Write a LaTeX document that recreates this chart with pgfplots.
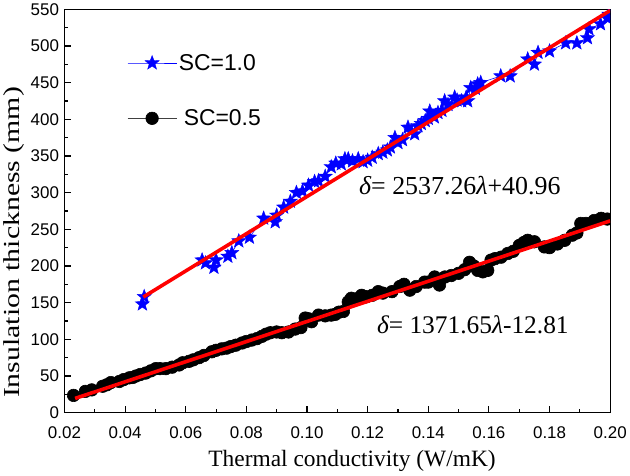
\documentclass[border=0pt]{standalone}
\usepackage{fontspec}
\setmainfont{Liberation Serif}
\newfontfamily\sans{Liberation Sans}
\usepackage{pgfplots}
\pgfplotsset{compat=1.18}
\pgfdeclareplotmark{fstar}{%
  \pgfpathmoveto{\pgfpointpolar{90}{\pgfplotmarksize}}%
  \pgfpathlineto{\pgfpointpolar{126}{0.42\pgfplotmarksize}}%
  \pgfpathlineto{\pgfpointpolar{162}{\pgfplotmarksize}}%
  \pgfpathlineto{\pgfpointpolar{198}{0.42\pgfplotmarksize}}%
  \pgfpathlineto{\pgfpointpolar{234}{\pgfplotmarksize}}%
  \pgfpathlineto{\pgfpointpolar{270}{0.42\pgfplotmarksize}}%
  \pgfpathlineto{\pgfpointpolar{306}{\pgfplotmarksize}}%
  \pgfpathlineto{\pgfpointpolar{342}{0.42\pgfplotmarksize}}%
  \pgfpathlineto{\pgfpointpolar{18}{\pgfplotmarksize}}%
  \pgfpathlineto{\pgfpointpolar{54}{0.42\pgfplotmarksize}}%
  \pgfpathclose
  \pgfusepathqfillstroke}
\begin{document}
\begin{tikzpicture}
\begin{axis}[
  scale only axis,
  width=548pt, height=405pt,
  xmin=0.02, xmax=0.20, ymin=0, ymax=550,
  clip marker paths=true,
  xtick={0.02,0.04,...,0.201},
  ytick={0,50,...,550},
  minor x tick num=1, minor y tick num=1,
  tick align=inside, tick pos=left,
  major tick length=7pt, minor tick length=4pt,
  axis line style={line width=1.2pt},
  every tick/.style={line width=1.1pt, black},
  x tick label style={/pgf/number format/fixed, /pgf/number format/fixed zerofill, /pgf/number format/precision=2},
  ticklabel style={font=\sans\fontsize{17}{17}\selectfont},
  /pgf/number format/assume math mode=true,
  yticklabel style={xshift=-2pt},
  xticklabel style={yshift=-11pt},
  xlabel={\fontsize{23.5}{23.5}\selectfont Thermal conductivity (W/mK)},
  ylabel={\scalebox{1.3}[1]{\fontsize{23}{23}\selectfont Insulation thickness (mm)}},
  xlabel style={at={(axis description cs:0.527,-0.12)}, anchor=center},
  ylabel style={at={(axis description cs:-0.093,0.422)}, anchor=center},
  legend style={draw=none, fill=none, at={(axis description cs:0.115,0.894)}, anchor=north west,
    font=\sans\fontsize{23}{23}\selectfont, row sep=34pt, inner sep=0pt},
  legend cell align=left,
  legend image code/.code={\draw[#1, mark repeat=2, mark phase=2] plot coordinates {(0pt,0pt) (24.5pt,0pt) (49pt,0pt)};},
]
\addplot[blue, line width=0.6pt, mark=fstar, mark size=7.5pt, mark options={solid, fill=blue, draw=blue, line width=0.4pt}] coordinates {
(0.0457,148) (0.0463,158) (0.0654,208) (0.0665,204) (0.0693,198) (0.0700,208)
(0.0739,213) (0.0752,218) (0.0775,234) (0.0810,239) (0.0857,265) (0.0895,260)
(0.0900,269) (0.0923,280) (0.0945,288) (0.0965,300) (0.0985,302) (0.1005,310)
(0.1025,315) (0.1038,316) (0.1060,322) (0.1080,335) (0.1095,340) (0.1113,339)
(0.1125,346) (0.1136,346) (0.1150,343) (0.1169,346) (0.1185,342) (0.1200,344)
(0.1215,348) (0.1235,353) (0.1250,355) (0.1265,358) (0.1275,362) (0.1290,375)
(0.1300,368) (0.1315,372) (0.1333,389) (0.1343,384) (0.1355,380) (0.1366,391)
(0.1377,394) (0.1390,398) (0.1400,401) (0.1405,411) (0.1420,403) (0.1432,409)
(0.1445,412) (0.1454,425) (0.1465,420) (0.1487,430) (0.1495,426) (0.1510,425)
(0.1525,430) (0.1530,425) (0.1540,443) (0.1555,442) (0.1563,448) (0.1573,450)
(0.1639,459) (0.1670,459) (0.1728,482) (0.1750,475) (0.1762,491) (0.1800,493)
(0.1853,504) (0.1890,504) (0.1925,511) (0.1930,523) (0.1968,530) (0.1990,538)
(0.1996,543)
};
\addlegendentry{SC=1.0}
\addplot[black!75, line width=0.6pt, mark=*, mark size=6.3pt, mark options={solid, fill=black, draw=black}] coordinates {
(0.0230,23.5) (0.0269,29) (0.0290,31) (0.0326,36) (0.0340,38) (0.0353,41)
(0.0381,42.5) (0.0395,45) (0.0414,47.5) (0.0425,48) (0.0436,50) (0.0450,52)
(0.0468,54) (0.0485,57) (0.0501,60) (0.0515,60) (0.0534,60) (0.0555,62)
(0.0578,65) (0.0590,68) (0.0611,70) (0.0625,72) (0.0644,75) (0.0660,78)
(0.0686,83) (0.0700,85) (0.0719,87) (0.0735,88) (0.0748,90) (0.0765,92)
(0.0786,95) (0.0800,97) (0.0818,99) (0.0835,101) (0.0851,104) (0.0865,107)
(0.0879,109) (0.0900,110) (0.0917,109) (0.0939,110) (0.0961,114) (0.0980,116)
(0.0994,129) (0.1005,128) (0.1015,124) (0.1038,133) (0.1060,132) (0.1080,133)
(0.1093,134) (0.1105,137) (0.1120,138) (0.1136,151) (0.1146,156) (0.1160,155)
(0.1180,160) (0.1196,158) (0.1215,160) (0.1235,165) (0.1250,163) (0.1280,165)
(0.1306,172) (0.1320,175) (0.1339,167) (0.1360,172) (0.1388,178) (0.1400,178)
(0.1421,185) (0.1437,174) (0.1455,185) (0.1476,187) (0.1500,190) (0.1520,195)
(0.1536,205) (0.1550,200) (0.1563,194) (0.1580,192) (0.1596,194) (0.1607,208)
(0.1620,210) (0.1640,212) (0.1662,217) (0.1680,220) (0.1700,228) (0.1715,232)
(0.1728,235) (0.1750,233) (0.1783,226) (0.1800,225) (0.1826,230) (0.1850,235)
(0.1875,242) (0.1890,245) (0.1903,258) (0.1920,258) (0.1947,262) (0.1970,265)
(0.1990,264)
};
\addlegendentry{\hspace{5pt}SC=0.5}
\addplot[red, line width=3.6pt, forget plot] coordinates {(0.046,157.7) (0.200,548.4)};
\addplot[red, line width=3.6pt, forget plot] coordinates {(0.0235,19.4) (0.200,261.5)};
\node[font=\fontsize{26}{26}\selectfont] at (axis cs:0.1504,310) {{\itshape δ}= 2537.26{\itshape λ}+40.96};
\node[font=\fontsize{25.5}{25.5}\selectfont] at (axis cs:0.1547,119.5) {{\itshape δ}= 1371.65{\itshape λ}-12.81};
\end{axis}
\end{tikzpicture}
\end{document}
